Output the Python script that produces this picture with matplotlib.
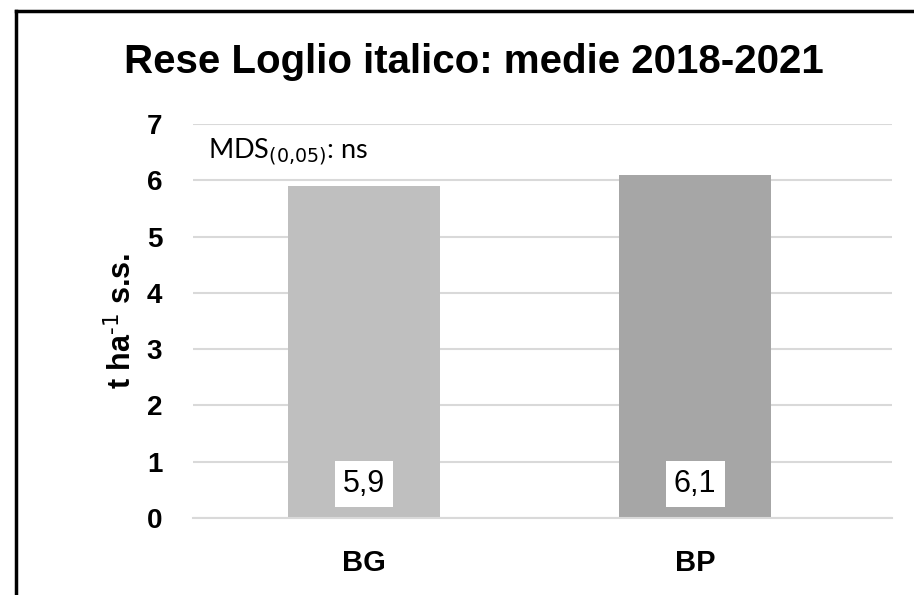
import matplotlib.pyplot as plt
from matplotlib.lines import Line2D

# rese medie 2018-2021 (t/ha s.s.)
categorie = ['BG', 'BP']
rese = [5.9, 6.1]
etichette = ['5,9', '6,1']
colori = ['#BFBFBF', '#A6A6A6']

plt.rcParams['font.family'] = ['Liberation Sans', 'DejaVu Sans']

fig = plt.figure(figsize=(9.14, 5.95), dpi=100)
ax = fig.add_axes([0.211, 0.1294, 0.765, 0.6622])

x = [0, 1]
ax.bar(x, rese, width=0.46, color=colori, zorder=2)

for xi, lab in zip(x, etichette):
    ax.text(xi, 0.6, lab, ha='center', va='center', fontsize=22, zorder=3,
            bbox=dict(facecolor='white', edgecolor='none', pad=6))

ax.set_xlim(-0.517, 1.595)
ax.set_ylim(0, 7)
ax.set_yticks(range(0, 8))
ax.set_xticks(x)
ax.set_xticklabels(categorie, fontsize=21, fontweight='bold')
ax.tick_params(axis='y', labelsize=20, length=0, pad=22)
ax.tick_params(axis='x', length=0, pad=22)
for t in ax.get_yticklabels():
    t.set_fontweight('bold')

ax.grid(axis='y', color='#D9D9D9', linewidth=1.5, zorder=0)
for s in ['top', 'right', 'left']:
    ax.spines[s].set_visible(False)
ax.spines['bottom'].set_color('#D9D9D9')
ax.spines['bottom'].set_linewidth(1.5)

ax.set_ylabel('t ha$^{\u2010\\mathrm{1}}$ s.s.', fontsize=22, fontweight='bold', labelpad=6)

ax.text(-0.47, 6.5, 'MDS$_{(0{,}05)}$: ns', fontsize=19.5, family='Lato',
        va='center', ha='left')

fig.text(0.519, 0.895, 'Rese Loglio italico: medie 2018-2021', ha='center',
         va='center', fontsize=29, fontweight='bold')

# cornice in alto e a sinistra
fig.add_artist(Line2D([16 / 914, 16 / 914], [0, 1 - 11 / 595], color='black', lw=2.5))
fig.add_artist(Line2D([16 / 914, 1], [1 - 11 / 595, 1 - 11 / 595], color='black', lw=2.5))

fig.savefig('out.png', dpi=100)
